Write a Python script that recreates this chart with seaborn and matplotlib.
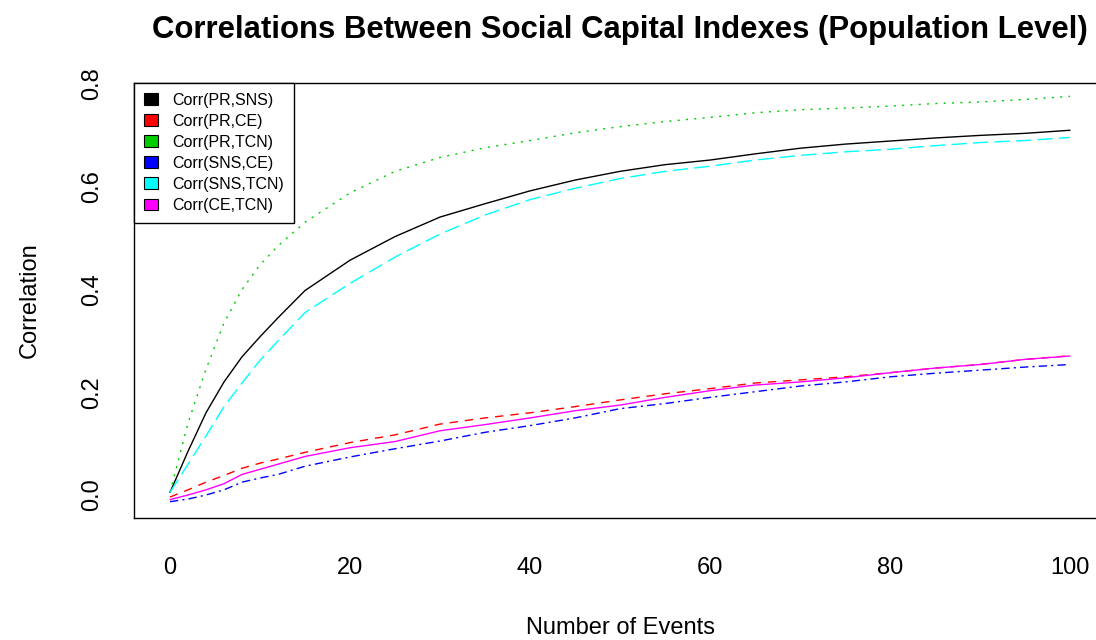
import numpy as np
import pandas as pd
import matplotlib
matplotlib.use("Agg")
import matplotlib.pyplot as plt
from matplotlib.patches import Patch
import seaborn as sns

# ---------------- data ----------------
events = [0, 2, 4, 6, 8, 10, 12, 15, 20, 25, 30, 35, 40, 45, 50, 55, 60, 65, 70, 75, 80, 85, 90, 95, 100]

pr_sns = [0.005, 0.085, 0.160, 0.220, 0.269, 0.308, 0.345, 0.398, 0.457, 0.503, 0.541, 0.567, 0.592,
          0.613, 0.630, 0.643, 0.652, 0.664, 0.675, 0.683, 0.689, 0.695, 0.700, 0.704, 0.710]
pr_ce = [-0.004, 0.010, 0.025, 0.038, 0.052, 0.062, 0.070, 0.083, 0.102, 0.117, 0.138, 0.150, 0.160,
         0.172, 0.185, 0.197, 0.207, 0.218, 0.224, 0.230, 0.238, 0.247, 0.254, 0.264, 0.271]
pr_tcn = [0.005, 0.140, 0.245, 0.335, 0.400, 0.448, 0.485, 0.531, 0.588, 0.630, 0.657, 0.676, 0.690,
          0.705, 0.717, 0.727, 0.735, 0.744, 0.750, 0.753, 0.757, 0.762, 0.765, 0.770, 0.776]
sns_ce = [-0.013, -0.008, 0.000, 0.010, 0.025, 0.033, 0.040, 0.056, 0.074, 0.090, 0.105, 0.122, 0.135,
          0.150, 0.168, 0.178, 0.190, 0.201, 0.212, 0.220, 0.230, 0.237, 0.243, 0.249, 0.254]
sns_tcn = [0.005, 0.060, 0.115, 0.172, 0.218, 0.262, 0.300, 0.355, 0.412, 0.463, 0.508, 0.545, 0.575,
           0.597, 0.616, 0.630, 0.640, 0.652, 0.661, 0.668, 0.673, 0.680, 0.686, 0.690, 0.696]
ce_tcn = [-0.009, 0.000, 0.010, 0.022, 0.040, 0.050, 0.060, 0.075, 0.092, 0.104, 0.125, 0.137, 0.150,
          0.164, 0.175, 0.190, 0.203, 0.214, 0.220, 0.228, 0.238, 0.247, 0.254, 0.264, 0.2705]

series_names = ["Corr(PR,SNS)", "Corr(PR,CE)", "Corr(PR,TCN)", "Corr(SNS,CE)", "Corr(SNS,TCN)", "Corr(CE,TCN)"]
series_values = [pr_sns, pr_ce, pr_tcn, sns_ce, sns_tcn, ce_tcn]
colors = ["#000000", "#FF0000", "#00CD00", "#0000FF", "#00FFFF", "#FF00FF"]
dash_styles = ["-", (0, (6, 5)), (0, (1.5, 4.5)), (0, (6, 3, 1.5, 3)), (0, (11, 4.5)), "-"]

x_ticks = [0, 20, 40, 60, 80, 100]
y_ticks = [0.0, 0.2, 0.4, 0.6, 0.8]
y_tick_labels = ["0.0", "0.2", "0.4", "0.6", "0.8"]

# ---------------- plot ----------------
sns.set_style("white")
plt.rcParams["font.family"] = ["Liberation Sans", "DejaVu Sans"]
plt.rcParams["text.color"] = "black"
plt.rcParams["axes.labelcolor"] = "black"

W, H = 1096, 640
fig = plt.figure(figsize=(W / 100, H / 100), dpi=100)
ax = fig.add_axes([134 / W, 122 / H, 972 / W, 435 / H])

df = pd.DataFrame({"events": events})
for name, vals, c, ls in zip(series_names, series_values, colors, dash_styles):
    df[name] = vals
    sns.lineplot(data=df, x="events", y=name, ax=ax, color=c, linewidth=1.0,
                 linestyle=ls, legend=False)

ax.set_xlim(-4, 104)
ax.set_ylim(-0.0448, 0.802)
ax.set_xticks(x_ticks)
ax.set_xticklabels([str(t) for t in x_ticks])
ax.set_yticks(y_ticks)
ax.set_yticklabels(y_tick_labels, rotation=90, va="center")

for s in ax.spines.values():
    s.set_visible(True)
    s.set_color("black")
    s.set_linewidth(1.0)

ax.tick_params(axis="both", direction="out", length=10, width=1.0, color="black",
               labelsize=17, labelcolor="black")
ax.tick_params(axis="x", pad=18)
ax.tick_params(axis="y", pad=12)

ax.set_title("Correlations Between Social Capital Indexes (Population Level)",
             fontsize=22.4, fontweight="bold", color="black", y=1 + 45 / 435, va="center")
ax.set_xlabel("Number of Events", fontsize=17, va="center", color="black")
ax.set_ylabel("Correlation", fontsize=17, va="center", color="black")
ax.xaxis.set_label_coords(0.5, -(628 - 518) / 435)
ax.yaxis.set_label_coords(-(134 - 30) / 972, 0.5)

handles = [Patch(facecolor=c, edgecolor="black", linewidth=0.8) for c in colors]
leg = ax.legend(handles, series_names, loc="upper left", bbox_to_anchor=(0, 1),
                borderaxespad=0, fontsize=11.5, frameon=True, fancybox=False,
                framealpha=1, edgecolor="black", handlelength=0.9, handleheight=0.75,
                handletextpad=0.9, labelspacing=0.38, borderpad=0.6)
leg.get_frame().set_linewidth(1.0)
for t in leg.get_texts():
    t.set_color("black")

fig.savefig("out.png", dpi=100, facecolor="white")
